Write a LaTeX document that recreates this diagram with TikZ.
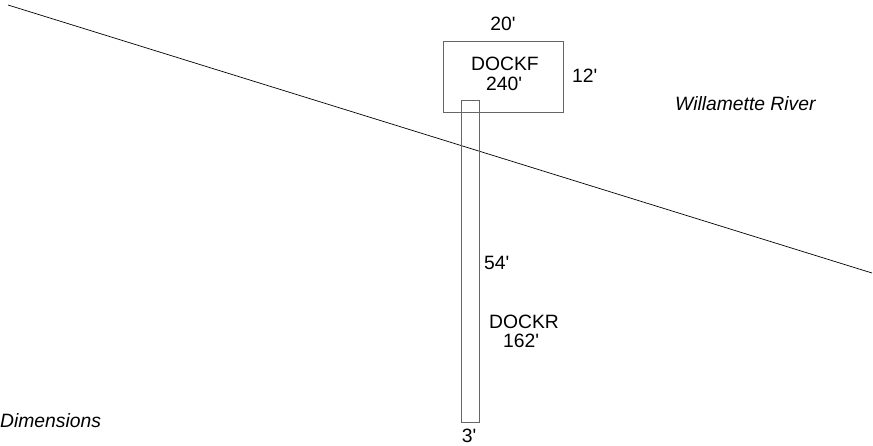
\documentclass[tikz,border=0pt]{standalone}
\usepackage{fontspec}
\setmainfont{Liberation Sans}
\newcommand\ft{\textquotesingle}

\begin{document}
\begin{tikzpicture}[x=1pt,y=-1pt,
  every node/.style={inner sep=0pt,font=\fontsize{19.3}{20}\selectfont},
  dock/.style={draw=black!60,line width=0.8pt},
  lbl/.style={anchor=base}]

\useasboundingbox (0,0) rectangle (873,445);

% river bank
\coordinate (bankW) at (8,5);
\coordinate (bankE) at (872,273);
\draw[line width=0.7pt] (bankW) -- (bankE);

% docks
\node[dock,minimum width=120pt,minimum height=71pt] (dockf) at (503,76.5) {};
\node[dock,minimum width=18pt,minimum height=322pt] (dockr) at (470,261) {};

\node[lbl] (dockfname) at (505,70) {DOCKF};
\node[lbl] (dockfarea) at (504,90) {240\ft};
\node[lbl] (dockfw) at (503,30) {20\ft};
\node[lbl,anchor=base west] (dockfh) at (572,82) {12\ft};

\node[lbl,anchor=base west] (dockrlen) at (484,269) {54\ft};
\node[lbl] (dockrname) at (524,328) {DOCKR};
\node[lbl] (dockrarea) at (521,347) {162\ft};
\node[lbl] (dockrw) at (469,442) {3\ft};

\node[lbl,anchor=base west,font=\fontsize{19.3}{20}\selectfont\itshape] (river) at (675,110) {Willamette River};
\node[lbl,anchor=base west,font=\fontsize{19.3}{20}\selectfont\itshape] (dims) at (0,427) {Dimensions};

\end{tikzpicture}
\end{document}
